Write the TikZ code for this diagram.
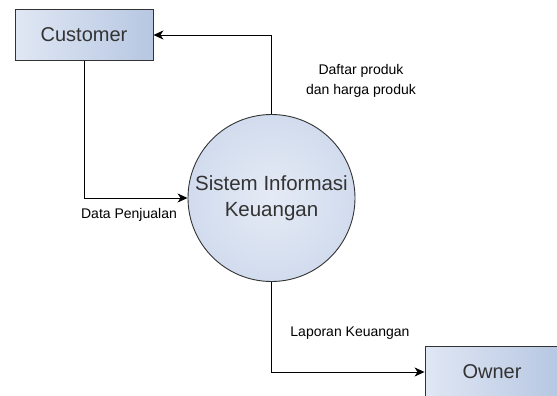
\documentclass[tikz,border=0pt]{standalone}
\usepackage{fontspec}
\setmainfont{Liberation Sans}
\usetikzlibrary{positioning, arrows.meta}

\definecolor{boxleft}{RGB}{224,231,244}
\definecolor{boxright}{RGB}{183,199,226}
\definecolor{circfill}{RGB}{212,222,239}
\definecolor{ink}{RGB}{51,51,51}

\tikzset{
	entity/.style={draw=ink, line width=0.9pt, left color=boxleft, right color=boxright,
		minimum width=138pt, minimum height=51pt, text=ink, font=\fontsize{20}{24}\selectfont},
	process/.style={circle, draw=ink, line width=0.9pt, inner color=circfill!60!white, outer color=circfill!90!boxright,
		minimum size=167pt, text=ink, align=center, font=\fontsize{20.5}{24}\selectfont},
	flow/.style={-{Stealth[length=10pt, width=9pt, inset=3pt]}, line width=0.9pt, draw=black},
	flowlabel/.style={text=black, align=center, font=\fontsize{14}{20}\selectfont}
}

\begin{document}
\begin{tikzpicture}[x=1pt, y=-1pt]
	\useasboundingbox (0,0) rectangle (557,396);
	
	\node[entity] (cust) at (84,35) {Customer};
	\node[process, inner sep=0pt] (sys) at (271.5,198) {Sistem Informasi\\[2pt]Keuangan};
	\node[entity, minimum width=134pt, minimum height=52pt] (owner) at (492,372) {Owner};
	
	\draw[flow] (cust.south) |- (sys.west);
	\draw[flow] (sys.north) |- (cust.east);
	\draw[flow] (sys.south) |- (owner.west);
	
	\node[flowlabel] (daftar) at (361,81) {Daftar produk\\dan harga produk};
	\node[flowlabel] (jual) at (129,215) {Data Penjualan};
	\node[flowlabel] (lapor) at (350,333) {Laporan Keuangan};
\end{tikzpicture}
\end{document}
